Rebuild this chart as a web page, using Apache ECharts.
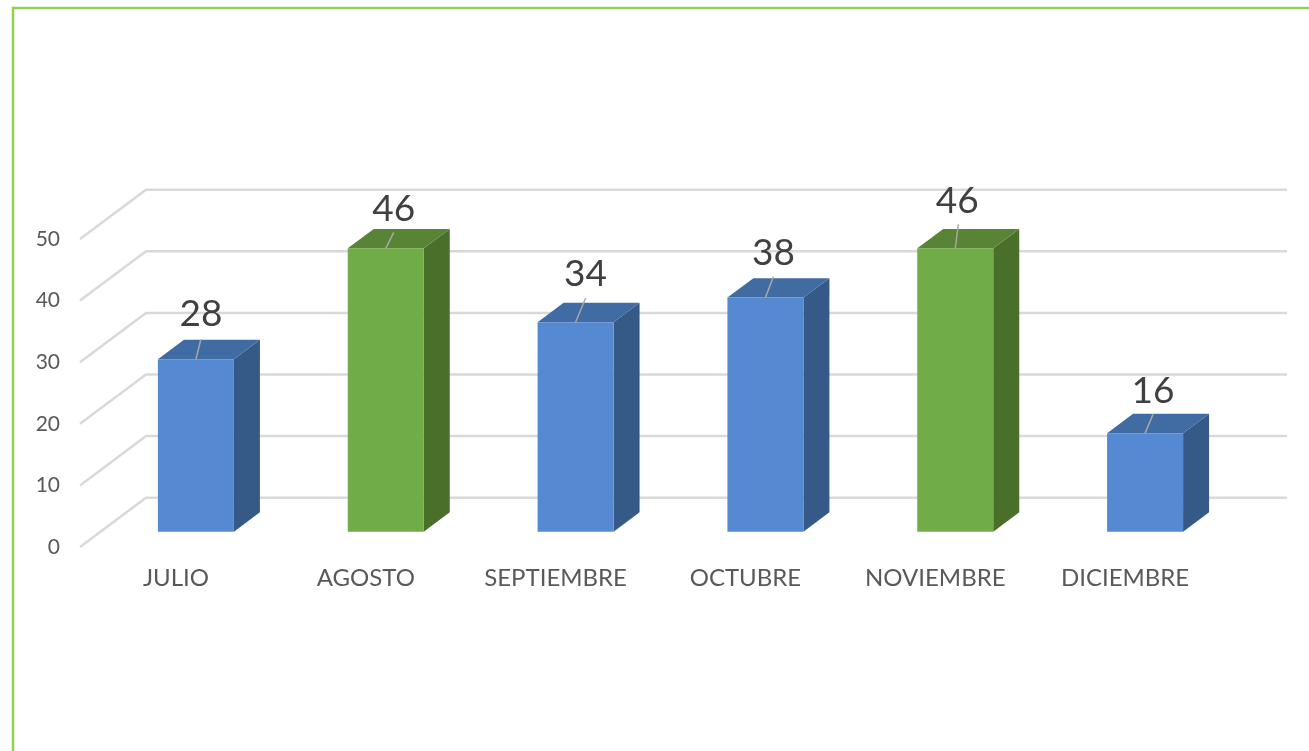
<!DOCTYPE html>
<html>
<head>
    <meta charset="utf-8">
    <title>Chart</title>
    <script src="https://cdn.jsdelivr.net/npm/echarts@6/dist/echarts.min.js"></script>
    <style>
        html, body { margin: 0; padding: 0; background: #fff; }
        #main { width: 1309px; height: 751px; }
    </style>
</head>
<body>
    <div id="main"></div>
    <script type="text/javascript">
        var months = ['JULIO', 'AGOSTO', 'SEPTIEMBRE', 'OCTUBRE', 'NOVIEMBRE', 'DICIEMBRE'];
        var values = [28, 46, 34, 38, 46, 16];
        var highlighted = ['AGOSTO', 'NOVIEMBRE'];
        var yTicks = [0, 10, 20, 30, 40, 50];

        // depth of the fake 3d box, in px
        var WALL_DX = 66, WALL_DY = -49.3;
        var BAR_SHIFT_X = 20, BAR_SHIFT_Y = -15.3;
        var BAR_DX = 26, BAR_DY = -19.4;
        var BAR_WIDTH = 76;

        // leader line end and text centre, relative to the bar's front top edge
        var labelPos = [
            { line: [5, -20], text: [5, -45] },
            { line: [8, -16], text: [8, -39] },
            { line: [10, -24], text: [10, -48] },
            { line: [8, -21], text: [8, -45] },
            { line: [3, -24], text: [2, -47] },
            { line: [8, -19], text: [8, -42] }
        ];

        var blue = { front: '#558ad3', top: '#416ba3', side: '#355a88' };
        var green = { front: '#70ad47', top: '#5a8435', side: '#4a6f2b' };

        function renderWall(params, api) {
            var cs = params.coordSys;
            var y = api.coord([0, api.value(0)])[1];
            var x0 = cs.x - 1;
            return {
                type: 'polyline',
                silent: true,
                shape: {
                    points: [
                        [x0, y],
                        [x0 + WALL_DX, y + WALL_DY],
                        [cs.x + cs.width + WALL_DX + 1, y + WALL_DY]
                    ]
                },
                style: { fill: null, stroke: '#d9d9d9', lineWidth: 2.5 }
            };
        }

        function poly(points, color) {
            return { type: 'polygon', shape: { points: points }, style: { fill: color } };
        }

        function renderBar(params, api) {
            var i = api.value(0);
            var base = api.coord([i, 0]);
            var head = api.coord([i, api.value(1)]);
            var c = highlighted.indexOf(months[i]) >= 0 ? green : blue;
            var p = labelPos[i];
            var cx = base[0] + BAR_SHIFT_X;
            var x0 = cx - BAR_WIDTH / 2, x1 = cx + BAR_WIDTH / 2;
            var bottom = base[1] + BAR_SHIFT_Y, top = head[1] + BAR_SHIFT_Y;
            return {
                type: 'group',
                children: [
                    poly([[x1, top], [x1 + BAR_DX, top + BAR_DY], [x1 + BAR_DX, bottom + BAR_DY], [x1, bottom]], c.side),
                    poly([[x0, top], [x0 + BAR_DX, top + BAR_DY], [x1 + BAR_DX, top + BAR_DY], [x1, top]], c.top),
                    poly([[x0, top], [x1, top], [x1, bottom], [x0, bottom]], c.front),
                    {
                        type: 'line',
                        shape: { x1: cx, y1: top, x2: cx + p.line[0], y2: top + p.line[1] },
                        style: { stroke: '#a6a6a6', lineWidth: 1.5 }
                    },
                    {
                        type: 'text',
                        style: {
                            text: String(api.value(1)),
                            x: cx + p.text[0],
                            y: top + p.text[1],
                            align: 'center',
                            verticalAlign: 'middle',
                            font: '37px Lato',
                            fill: '#404040'
                        }
                    }
                ]
            };
        }

        var chart = echarts.init(document.getElementById('main'), null, { renderer: 'canvas' });
        chart.setOption({
            animation: false,
            textStyle: { fontFamily: 'Lato' },
            grid: { left: 81, top: 239, width: 1139, height: 308 },
            graphic: [{
                type: 'polyline',
                silent: true,
                shape: { points: [[13, 751], [13, 8], [1309, 8]] },
                style: { fill: null, stroke: '#92d050', lineWidth: 2.5 }
            }],
            xAxis: {
                type: 'category',
                data: months,
                axisLine: { show: false },
                axisTick: { show: false },
                axisLabel: { color: '#595959', fontSize: 24, margin: 19 }
            },
            yAxis: {
                type: 'value',
                min: 0,
                max: 50,
                interval: 10,
                axisLine: { show: false },
                axisTick: { show: false },
                splitLine: { show: false },
                axisLabel: { color: '#595959', fontSize: 21, margin: 21 }
            },
            series: [
                {
                    type: 'custom',
                    renderItem: renderWall,
                    data: yTicks.map(function (t) { return [t]; }),
                    encode: { y: 0 },
                    clip: false,
                    z: 1
                },
                {
                    type: 'custom',
                    renderItem: renderBar,
                    data: values.map(function (v, i) { return [i, v]; }),
                    encode: { x: 0, y: 1 },
                    clip: false,
                    z: 2
                }
            ]
        });
    </script>
</body>
</html>
